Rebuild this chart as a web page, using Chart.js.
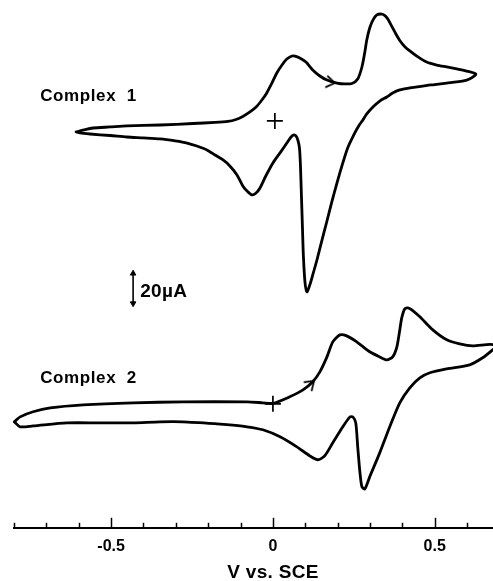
<!DOCTYPE html>
<html><head><meta charset="utf-8">
<script src="https://cdn.jsdelivr.net/npm/chart.js@4"></script>
<style>html,body{margin:0;padding:0;background:#fff;}canvas{display:block;}</style>
</head><body>
<canvas id="c" width="493" height="581"></canvas>
<script>
// ---- Data (potential in V vs. SCE, current in µA relative to each trace's "+" zero mark) ----
const complex1V = [-0.608,-0.580,-0.556,-0.503,-0.451,-0.349,-0.247,-0.179,-0.139,-0.114,-0.093,-0.071,-0.052,-0.034,-0.019,-0.003,0.012,0.028,0.043,0.059,0.068,0.083,0.102,0.123,0.145,0.167,0.198,0.222,0.244,0.262,0.275,0.284,0.290,0.299,0.309,0.321,0.336,0.346,0.355,0.367,0.380,0.392,0.407,0.423,0.448,0.475,0.506,0.537,0.568,0.599,0.627,
  0.614,0.599,0.568,0.537,0.500,0.463,0.423,0.392,0.370,0.352,0.330,0.309,0.290,0.278,0.265,0.253,0.231,0.216,0.198,0.182,0.167,0.151,0.136,0.123,0.114,0.105,0.099,0.094,0.091,0.088,0.085,0.082,0.077,0.071,0.065,0.056,0.043,0.022,0.000,-0.022,-0.040,-0.052,-0.065,-0.080,-0.093,-0.111,-0.133,-0.154,-0.179,-0.204,-0.235,-0.265,-0.302,-0.349,-0.401,-0.451,-0.503,-0.565,-0.596,-0.608];
const complex1I = [-7.3,-5.7,-4.7,-4.0,-3.3,-2.7,-1.7,-1.0,-0.3,1.0,3.0,6.0,9.3,14.0,18.7,25.3,32.0,37.3,41.3,43.3,43.3,42.0,39.3,34.0,30.0,27.3,25.3,24.7,25.0,28.0,36.0,46.0,54.0,62.0,67.3,70.7,71.3,70.3,68.0,63.3,58.0,53.7,49.7,46.7,42.7,39.3,37.3,36.0,34.7,33.3,31.3,
  28.7,27.3,26.0,25.3,24.3,23.3,22.0,20.7,18.7,16.0,13.3,9.3,4.7,0.7,-3.3,-8.0,-18.0,-28.0,-41.3,-54.0,-66.7,-80.0,-92.7,-102.7,-109.3,-114.0,-107.3,-89.3,-69.3,-49.3,-29.3,-18.0,-12.7,-10.0,-9.3,-10.7,-14.7,-21.3,-28.0,-36.7,-44.7,-48.0,-49.3,-46.7,-43.3,-36.0,-30.0,-26.0,-22.7,-19.3,-16.7,-14.7,-13.3,-12.0,-11.3,-10.7,-9.7,-8.7,-8.0,-7.3];

const complex2V = [-0.799,-0.781,-0.741,-0.688,-0.586,-0.432,-0.278,-0.080,-0.031,0.000,0.052,0.093,0.123,0.145,0.167,0.185,0.207,0.228,0.259,0.299,0.330,0.352,0.370,0.383,0.392,0.398,0.407,0.417,0.429,0.454,0.494,0.537,0.577,0.617,0.670,0.692,
  0.679,0.648,0.608,0.537,0.485,0.454,0.423,0.392,0.361,0.330,0.299,0.284,0.275,0.269,0.262,0.256,0.247,0.238,0.216,0.185,0.160,0.139,0.114,0.074,0.022,-0.031,-0.080,-0.133,-0.173,-0.278,-0.349,-0.432,-0.534,-0.636,-0.741,-0.781,-0.799];
const complex2I = [-12.0,-8.7,-5.3,-2.7,-0.7,0.7,1.3,1.3,0.7,0.3,4.7,9.3,14.7,21.3,31.3,41.3,46.0,45.3,41.3,34.7,31.3,29.3,31.3,38.0,49.3,57.3,63.3,64.0,62.7,58.0,49.3,42.7,40.0,38.7,39.7,38.7,
  36.0,30.7,26.0,23.3,20.7,17.3,10.7,0.7,-15.3,-32.7,-48.7,-56.7,-55.3,-46.0,-28.7,-12.7,-8.7,-8.7,-15.3,-26.0,-34.7,-37.3,-34.7,-28.7,-22.0,-17.3,-15.3,-14.0,-13.3,-12.0,-12.0,-12.7,-12.7,-12.7,-14.7,-15.3,-12.0];

// "+" zero marks
const zeroMark1V = [0.006], zeroMark1I = [0];
const zeroMark2V = [0.000], zeroMark2I = [0];
// scan-direction arrows
const arrow1V = [0.191], arrow1I = [25.3];
const arrow2V = [0.127], arrow2I = [15.3];
// 20 µA scale bar
const scaleBarV = [-0.432, -0.432], scaleBarI = [-121.7, -101.7];

// axis ticks
const tickValues = [-0.8,-0.7,-0.6,-0.5,-0.4,-0.3,-0.2,-0.1,0,0.1,0.2,0.3,0.4,0.5,0.6];
const majorTickValues = [-0.5, 0, 0.5];
const majorTickLabels = ['-0.5', '0', '0.5'];
const axisTitle = 'V vs. SCE';
const traceNames = ['Complex  1', 'Complex  2'];
const scaleBarText = '20µA';

// ---- helpers ----
const pts = (xs, ys) => xs.map((x, i) => ({x, y: ys[i]}));
const FONT = '"Liberation Sans", Arial, Helvetica, sans-serif';

const chevron = document.createElement('canvas');
chevron.width = 24; chevron.height = 24;
(() => { const g = chevron.getContext('2d'); g.strokeStyle = '#000'; g.lineWidth = 1.8; g.lineCap = 'round'; g.lineJoin = 'round';
  g.beginPath(); g.moveTo(4, 6.5); g.lineTo(12, 12); g.lineTo(4, 17.5); g.stroke(); })();

const annotations = [
  {text: traceNames[0], x: -0.719, y: 13.0, axis: 'y1', size: 17, spacing: '0.6px'},
  {text: traceNames[1], x: -0.719, y: 13.8, axis: 'y2', size: 17, spacing: '0.6px'},
  {text: scaleBarText, x: -0.410, y: -117.3, axis: 'y1', size: 19, spacing: '0.3px'}
];

const decor = {
  id: 'decor',
  afterDraw(chart) {
    const ctx = chart.ctx, xs = chart.scales.x, area = chart.chartArea;
    ctx.save();
    ctx.strokeStyle = '#000'; ctx.lineWidth = 1.5;
    tickValues.forEach(v => {
      const px = Math.round(xs.getPixelForValue(v)) + 0.5;
      const len = majorTickValues.includes(v) ? 10 : 5;
      ctx.beginPath(); ctx.moveTo(px, area.bottom); ctx.lineTo(px, area.bottom - len); ctx.stroke();
    });
    ctx.fillStyle = '#000'; ctx.textBaseline = 'alphabetic';
    annotations.forEach(a => {
      ctx.font = 'bold ' + a.size + 'px ' + FONT; ctx.textAlign = 'left';
      if ('letterSpacing' in ctx) ctx.letterSpacing = a.spacing;
      ctx.fillText(a.text, xs.getPixelForValue(a.x), chart.scales[a.axis].getPixelForValue(a.y));
    });
    if ('letterSpacing' in ctx) ctx.letterSpacing = '0.3px';
    ctx.font = 'bold 19px ' + FONT; ctx.textAlign = 'center';
    ctx.fillText(axisTitle, xs.getPixelForValue(0), chart.height - 3);
    ctx.restore();
  }
};

const curveStyle = {showLine: true, pointRadius: 0, borderColor: '#000', borderWidth: 2.8, tension: 0.25, fill: false, borderJoinStyle: 'round', borderCapStyle: 'round', clip: false};

new Chart(document.getElementById('c'), {
  type: 'scatter',
  data: {
    datasets: [
      {label: traceNames[0], data: pts(complex1V, complex1I), yAxisID: 'y1', ...curveStyle},
      {label: traceNames[1], data: pts(complex2V, complex2I), yAxisID: 'y2', ...curveStyle},
      {label: 'zero 1', data: pts(zeroMark1V, zeroMark1I), yAxisID: 'y1', pointStyle: 'cross', pointRadius: 8, borderColor: '#000', borderWidth: 1.7, clip: false},
      {label: 'zero 2', data: pts(zeroMark2V, zeroMark2I), yAxisID: 'y2', pointStyle: 'cross', pointRadius: 8, borderColor: '#000', borderWidth: 1.7, clip: false},
      {label: 'arrow 1', data: pts(arrow1V, arrow1I), yAxisID: 'y1', pointStyle: chevron, pointRotation: 10, pointRadius: 12, clip: false},
      {label: 'arrow 2', data: pts(arrow2V, arrow2I), yAxisID: 'y2', pointStyle: chevron, pointRotation: -42, pointRadius: 12, clip: false},
      {label: 'scale bar', data: pts(scaleBarV, scaleBarI), yAxisID: 'y1', showLine: true, borderColor: '#000', borderWidth: 1.6,
       pointStyle: 'triangle', pointRotation: [180, 0], pointRadius: 3.2, pointBackgroundColor: '#000', pointBorderColor: '#000', pointBorderWidth: 1, clip: false}
    ]
  },
  options: {
    responsive: false, animation: false, devicePixelRatio: 1,
    layout: {autoPadding: false, padding: {left: 14, right: 0, top: 0, bottom: 16}},
    plugins: {legend: {display: false}, tooltip: {enabled: false}},
    scales: {
      x: {
        type: 'linear', position: 'bottom', min: -0.8, max: 0.68,
        afterBuildTicks: s => { s.ticks = tickValues.map(v => ({value: v})); },
        grid: {display: false, drawTicks: false},
        border: {display: true, color: '#000', width: 2},
        ticks: {autoSkip: false, maxRotation: 0, padding: 9, color: '#000',
          font: {family: FONT, size: 16, weight: 'bold'},
          callback: v => { const k = majorTickValues.indexOf(v); return k >= 0 ? majorTickLabels[k] : ''; }}
      },
      y1: {type: 'linear', display: false, min: -271.3, max: 80.67},
      y2: {type: 'linear', display: false, min: -82.67, max: 269.3}
    }
  },
  plugins: [decor]
});
</script>
</body></html>
